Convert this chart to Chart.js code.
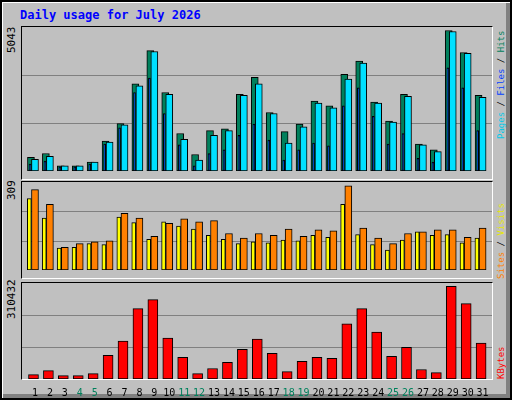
<!DOCTYPE html>
<html>
<head>
<meta charset="utf-8">
<script src="https://cdn.jsdelivr.net/npm/chart.js@4"></script>
<style>
  body { margin: 0; background: #fff; }
  #frame { position: relative; width: 508px; height: 396px; border: 2px solid #000; background: #c0c0c0;
           box-shadow: inset 1px 1px 0 #fff, inset -4px -4px 0 #808080; font-family: "DejaVu Sans Mono", monospace; }
  .panel { position: absolute; left: 19px; width: 470px; border-top: 1px solid #000; border-left: 1px solid #000;
           border-right: 1px solid #fff; border-bottom: 1px solid #fff; }
  .panel canvas { position: absolute; left: 0; top: 0; }
  .rot { position: absolute; transform-origin: left top; transform: rotate(-90deg); white-space: nowrap;
         font-size: 9px; line-height: 11px; }
  #title { position: absolute; left: 18px; top: 6px; color: #0000ff; font-weight: bold; font-size: 12px; }
</style>
</head>
<body>
<div id="frame">
  <div id="title">Daily usage for July 2026</div>
  <div class="panel" style="top:24px;height:152px"><canvas id="c1" width="470" height="152"></canvas></div>
  <div class="panel" style="top:179px;height:96px"><canvas id="c2" width="470" height="96"></canvas></div>
  <div class="panel" style="top:280px;height:96px"></div>
  <canvas id="c3" width="470" height="116" style="position:absolute;left:20px;top:281px"></canvas>

  <div class="rot" style="left:4px;top:51px;font-size:11px">5043</div>
  <div class="rot" style="left:4px;top:198px;font-size:11px">309</div>
  <div class="rot" style="left:4px;top:317px;font-size:11px">310432</div>

  <div class="rot" style="left:494px;top:137px"><span style="color:#00c8e8">Pages</span> / <span style="color:#0040ff">Files</span> / <span style="color:#00805c">Hits</span></div>
  <div class="rot" style="left:494px;top:277px"><span style="color:#ff8000">Sites</span> / <span style="color:#e8e800">Visits</span></div>
  <div class="rot" style="left:494px;top:377px"><span style="color:#ff0000">KBytes</span></div>
</div>
<script>
const days = Array.from({length: 31}, (_, i) => i + 1);
const weekends = [4, 5, 11, 12, 18, 19, 25, 26];

const hits  = [491, 628, 183, 183, 319, 1072, 1700, 3126, 4324, 2818, 1346, 593, 1449, 1517, 2750, 3366, 2099, 1415, 1689, 2510, 2339, 3468, 3948, 2476, 1791, 2750, 970, 764, 5043, 4256, 2716];
const files = [422, 525, 183, 183, 319, 1038, 1654, 3058, 4290, 2750, 1141, 388, 1278, 1449, 2716, 3126, 2065, 1004, 1586, 2442, 2271, 3297, 3879, 2442, 1757, 2681, 936, 696, 5009, 4222, 2647];
const pages = [251, 354, 148, 148, 251, 970, 1552, 2818, 3332, 2065, 936, 183, 628, 764, 1278, 1689, 1107, 388, 764, 1004, 901, 2339, 2989, 1962, 970, 1346, 456, 319, 3708, 2989, 1449];
const sites  = [262, 191, 80, 83, 97, 93, 194, 174, 113, 177, 161, 150, 127, 113, 97, 103, 100, 110, 107, 127, 120, 241, 130, 93, 73, 110, 140, 127, 130, 100, 117];
const visits = [295, 241, 83, 97, 103, 107, 208, 191, 124, 171, 188, 177, 181, 134, 117, 134, 127, 150, 124, 147, 144, 309, 154, 117, 97, 134, 140, 147, 147, 120, 154];
const kbytes = [14700, 28300, 11300, 11300, 18100, 79300, 126900, 235700, 266300, 137100, 72500, 18100, 35100, 55500, 99700, 133700, 86100, 24900, 58900, 72500, 69100, 184700, 235700, 157500, 75900, 106500, 31700, 21500, 310432, 252700, 120100];

function pts(arr, off) { return arr.map((v, i) => ({x: days[i] + off, y: v})); }
function bar(data, color, w) {
  return { data, backgroundColor: color, borderColor: '#000', borderWidth: 1, barThickness: w, grouped: false, borderSkipped: false };
}
function opts(max, showX) {
  return {
    responsive: false, animation: false, events: [],
    layout: { padding: 0 },
    plugins: { legend: { display: false }, tooltip: { enabled: false } },
    scales: {
      x: { type: 'linear', min: 0.13, max: 31.63, offset: false,
           grid: { display: false }, border: { display: false },
           afterBuildTicks: s => { s.ticks = days.map(d => ({value: d})); },
           ticks: { display: showX, autoSkip: false, maxRotation: 0, padding: 0,
                    font: { family: 'DejaVu Sans Mono', size: 10 },
                    color: c => weekends.includes(c.tick.value) ? '#00805c' : '#000' } },
      y: { min: 0, max: max, grid: { color: '#808080', lineWidth: 1, drawTicks: false }, border: { display: false },
           afterBuildTicks: s => { s.ticks = [{value: max * 0.327}, {value: max * 0.665}]; },
           ticks: { display: false } }
    }
  };
}

new Chart(document.getElementById('c1'), {
  type: 'bar',
  data: { datasets: [
    bar(pts(pages, -0.33), '#0040ff', 2),
    bar(pts(files, 0), '#00e0ff', 7),
    bar(pts(hits, -0.27), '#00805c', 7)
  ] },
  options: opts(5170, false)
});
new Chart(document.getElementById('c2'), {
  type: 'bar',
  data: { datasets: [
    bar(pts(sites, -0.38), '#ffff00', 4),
    bar(pts(visits, 0), '#ff8000', 7)
  ] },
  options: opts(323, false)
});
new Chart(document.getElementById('c3'), {
  type: 'bar',
  data: { datasets: [ bar(pts(kbytes, -0.1), '#ff0000', 10) ] },
  options: opts(321800, true)
});
</script>
</body>
</html>
